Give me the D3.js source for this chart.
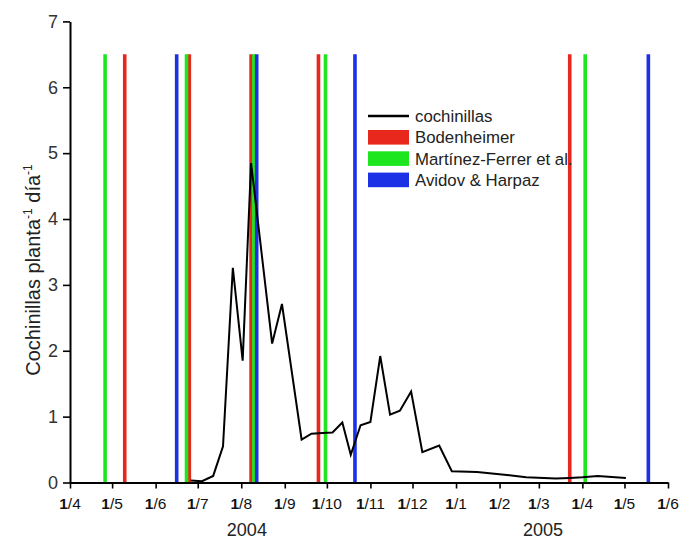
<!DOCTYPE html>
<html>
<head>
<meta charset="utf-8">
<script src="https://cdn.jsdelivr.net/npm/d3@7/dist/d3.min.js"></script>
<style>
  html, body { margin: 0; padding: 0; background: #fff; }
  svg { display: block; font-family: "Liberation Sans", Arial, sans-serif; }
</style>
</head>
<body>
<svg id="chart" width="680" height="547"></svg>
<script>
// Sampling dates and counts of mealybugs per plant per day
const sampleDates = [
  "2004-06-26", "2004-07-04", "2004-07-12", "2004-07-19", "2004-07-26",
  "2004-08-02", "2004-08-08", "2004-08-23", "2004-08-30", "2004-09-13",
  "2004-09-20", "2004-09-28", "2004-10-05", "2004-10-12", "2004-10-18",
  "2004-10-25", "2004-11-01", "2004-11-08", "2004-11-15", "2004-11-22",
  "2004-11-30", "2004-12-08", "2004-12-20", "2004-12-29", "2005-01-16",
  "2005-02-08", "2005-02-20", "2005-03-13", "2005-03-23", "2005-04-01",
  "2005-04-12", "2005-05-02"
];
const cochinillas = [
  0.03, 0.02, 0.10, 0.55, 3.26,
  1.85, 4.85, 2.11, 2.71, 0.65,
  0.74, 0.75, 0.76, 0.91, 0.42,
  0.87, 0.92, 1.92, 1.03, 1.09,
  1.38, 0.46, 0.56, 0.17, 0.16,
  0.11, 0.08, 0.06, 0.07, 0.08,
  0.10, 0.07
];

// Predicted generation dates from each degree-day model
const bodenheimer    = ["2004-05-10", "2004-06-25", "2004-08-08", "2004-09-25", "2005-03-23"];
const martinezFerrer = ["2004-04-26", "2004-06-23", "2004-08-10", "2004-09-30", "2005-04-03"];
const avidovHarpaz   = ["2004-06-16", "2004-08-12", "2004-10-21", "2005-05-18"];
const markerHeight = 6.5;

const legendLabels = ["cochinillas", "Bodenheimer", "Martínez-Ferrer et al.", "Avidov & Harpaz"];
const yTicks = [0, 1, 2, 3, 4, 5, 6, 7];
const yearLabels = ["2004", "2005"];
const yearDates = ["2004-08-05", "2005-03-04"];

const parse = d3.timeParse("%Y-%m-%d");
const svg = d3.select("#chart");

const x = d3.scaleTime()
  .domain([parse("2004-04-01"), parse("2005-06-01")])
  .range([70, 668]);
const y = d3.scaleLinear().domain([0, 7]).range([482.5, 21.4]);

const colors = { red: "#e8281c", green: "#1ee61e", blue: "#1c30e6" };

// Vertical generation markers
const markerSets = [
  { dates: bodenheimer, color: colors.red },
  { dates: martinezFerrer, color: colors.green },
  { dates: avidovHarpaz, color: colors.blue }
];
markerSets.forEach(set => {
  svg.append("g").selectAll("line")
    .data(set.dates.map(parse))
    .join("line")
    .attr("x1", d => x(d)).attr("x2", d => x(d))
    .attr("y1", y(0)).attr("y2", y(markerHeight))
    .attr("stroke", set.color)
    .attr("stroke-width", 3.6);
});

// Mealybug series
const series = sampleDates.map((d, i) => ({ date: parse(d), value: cochinillas[i] }));
svg.append("path")
  .datum(series)
  .attr("fill", "none")
  .attr("stroke", "#000")
  .attr("stroke-width", 2)
  .attr("stroke-linejoin", "miter")
  .attr("d", d3.line().x(d => x(d.date)).y(d => y(d.value)));

// X axis: monthly ticks with mid-month minor ticks
const months = d3.timeMonth.range(parse("2004-04-01"), d3.timeDay.offset(parse("2005-06-01"), 1));
const mids = d3.pairs(months).map(([a, b]) => new Date((+a + +b) / 2));

const xAxisG = svg.append("g").attr("transform", `translate(0,${y(0)})`);
xAxisG.call(d3.axisBottom(x).tickValues(mids).tickSize(4).tickSizeOuter(0).tickFormat(""));
xAxisG.call(d3.axisBottom(x).tickValues(months).tickSize(6).tickSizeOuter(0).tickFormat(""));
xAxisG.selectAll(".domain").attr("stroke", "#000").attr("stroke-width", 2);
xAxisG.selectAll(".tick line").attr("stroke", "#000").attr("stroke-width", 1.6);

const xLabels = svg.append("g").selectAll("text")
  .data(months)
  .join("text")
  .attr("x", d => x(d))
  .attr("y", 509)
  .attr("text-anchor", "middle")
  .attr("font-size", 15.5)
  .attr("fill", "#111");
xLabels.append("tspan").attr("font-weight", "bold").text("1");
xLabels.append("tspan").text(d => "/" + (d.getMonth() + 1));

// Year captions
svg.append("g").selectAll("text")
  .data(yearLabels)
  .join("text")
  .attr("x", (d, i) => x(parse(yearDates[i])))
  .attr("y", 536)
  .attr("text-anchor", "middle")
  .attr("font-size", 18)
  .attr("fill", "#222")
  .text(d => d);

// Y axis with half-unit minor ticks
const yAxisG = svg.append("g").attr("transform", "translate(70,0)");
yAxisG.call(d3.axisLeft(y).tickValues(d3.range(0.5, 7, 1)).tickSize(4).tickSizeOuter(0).tickFormat(""));
yAxisG.call(d3.axisLeft(y).tickValues(yTicks).tickSize(7).tickSizeOuter(0).tickFormat(d3.format("d")).tickPadding(5));
yAxisG.selectAll(".domain").attr("stroke", "#000").attr("stroke-width", 2);
yAxisG.selectAll(".tick line").attr("stroke", "#000").attr("stroke-width", 1.6);
yAxisG.selectAll(".tick text")
  .attr("font-size", 18)
  .attr("fill", "#333")
  .attr("font-family", "Liberation Sans, Arial, sans-serif");

// Y axis title with superscripts
const yTitle = svg.append("text")
  .attr("transform", "translate(40,270) rotate(-90)")
  .attr("text-anchor", "middle")
  .attr("font-size", 20)
  .attr("fill", "#222");
yTitle.append("tspan").text("Cochinillas planta");
yTitle.append("tspan").attr("font-size", 12).attr("dy", -8).text("-1");
yTitle.append("tspan").attr("dy", 8).text(" día");
yTitle.append("tspan").attr("font-size", 12).attr("dy", -8).text("-1");

// Legend
const legendColors = ["#000", colors.red, colors.green, colors.blue];
const legend = svg.append("g");
legendLabels.forEach((label, i) => {
  const cy = 116 + i * 21.3;
  if (i === 0) {
    legend.append("line")
      .attr("x1", 368).attr("x2", 409)
      .attr("y1", cy).attr("y2", cy)
      .attr("stroke", "#000").attr("stroke-width", 2.5);
  } else {
    legend.append("rect")
      .attr("x", 368).attr("y", cy - 7.3)
      .attr("width", 41).attr("height", 14.6)
      .attr("fill", legendColors[i]);
  }
  legend.append("text")
    .attr("x", 415).attr("y", cy)
    .attr("dy", "0.36em")
    .attr("font-size", 16.8)
    .attr("fill", "#222")
    .text(label);
});
</script>
</body>
</html>
